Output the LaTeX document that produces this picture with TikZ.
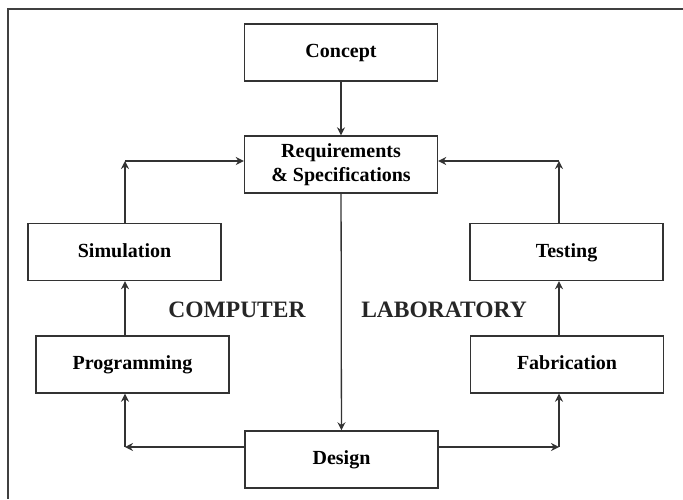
\documentclass[tikz,border=0pt]{standalone}
\usepackage{fontspec}
\setmainfont{Liberation Serif}
\usepackage{tikz}
\usetikzlibrary{arrows.meta,calc,positioning}

\begin{document}
\begin{tikzpicture}[
    x=1pt, y=-1pt,
    stage/.style={
      draw=black!80, line width=1.4pt,
      fill=white,
      minimum width=193pt, minimum height=57pt,
      align=center,
      font=\bfseries\fontsize{20}{24}\selectfont,
      inner sep=4pt
    },
    oneline/.style={text height=14pt, text depth=4pt},
    side/.style={
      font=\bfseries\fontsize{23.5}{26}\selectfont,
      text=black!85
    },
    arr/.style={-{Stealth[length=8pt,width=8pt]}, line width=1.3pt, draw=black!80}
  ]

  \useasboundingbox (0,0) rectangle (683,499);

  % Frame (top and left edges only)
  \draw[line width=2pt, draw=black!75] (683,9) -- (8,9) -- (8,499);

  % Nodes
  \node[stage, oneline] (concept) at (341,52.5) {Concept};
  \node[stage] (req) at (341,164.5) {Requirements\\\& Specifications};

  \node[stage, oneline] (sim)  at (124.5,252) {Simulation};
  \node[stage, oneline] (test) at (566.5,252) {Testing};

  \node[stage, oneline] (prog) at (132.5,364.5) {Programming};
  \node[stage, oneline] (fab)  at (567,364.5) {Fabrication};

  \node[stage, oneline] (design) at (341.5,459.5) {Design};

  \node[side] (comp) at (237,310) {COMPUTER};
  \node[side] (lab)  at (444,310) {LABORATORY};

  % Corners of the loop
  \coordinate (lt) at (125,161);
  \coordinate (rt) at (559,161);
  \coordinate (lb) at (125,447);
  \coordinate (rb) at (559,447);

  % Main trunk
  \draw[arr] (concept) -- (req);
  \draw[arr] (req) -- (design);

  % Computer branch
  \draw[arr] (design.west |- lb) -- (lb);
  \draw[arr] (lb) -- (lb |- prog.south);
  \draw[arr] (lb |- prog.north) -- (lb |- sim.south);
  \draw[arr] (lb |- sim.north) -- (lt);
  \draw[arr] (lt) -- (req.west |- lt);

  % Laboratory branch
  \draw[arr] (design.east |- rb) -- (rb);
  \draw[arr] (rb) -- (rb |- fab.south);
  \draw[arr] (rb |- fab.north) -- (rb |- test.south);
  \draw[arr] (rb |- test.north) -- (rt);
  \draw[arr] (rt) -- (req.east |- rt);

\end{tikzpicture}
\end{document}
